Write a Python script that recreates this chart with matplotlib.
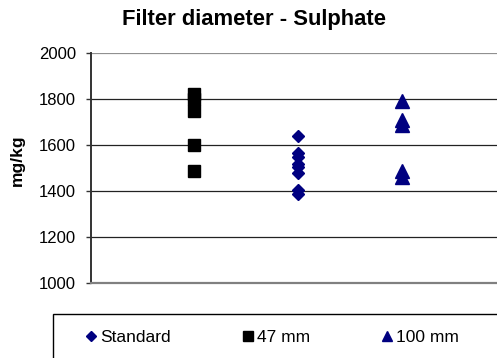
import numpy as np
import matplotlib.pyplot as plt
from matplotlib.patches import Rectangle

plt.rcParams['font.family'] = ['Liberation Sans', 'DejaVu Sans']

# values
standard = [1640, 1565, 1550, 1520, 1505, 1480, 1405, 1390]
mm47 = [1825, 1800, 1750, 1600, 1490]
mm100 = [1793, 1712, 1690, 1488, 1460]
yticks = [1000, 1200, 1400, 1600, 1800, 2000]

navy = '#000080'

fig = plt.figure(figsize=(4.97, 3.58), dpi=100)
ax = fig.add_axes([90.7/497, 1-283.3/358, 1-90.7/497, 230/358])

ax.plot([1]*len(mm47), mm47, 's', color='black', ms=9.3, label='47 mm', zorder=3)
ax.plot([2]*len(standard), standard, 'D', color=navy, ms=6.6, label='Standard', zorder=3)
ax.plot([3]*len(mm100), mm100, '^', color=navy, ms=9.5, label='100 mm', zorder=3)

ax.set_xlim(0, 3.92)
ax.set_ylim(1000, 2000)
ax.set_yticks(yticks)
ax.set_xticks([])
for y in yticks[1:-1]:
    ax.axhline(y, color='#222222', lw=0.9, zorder=1)
ax.axhline(2000, color='#909090', lw=1.6, zorder=1)

for s in ['top', 'right']:
    ax.spines[s].set_visible(False)
ax.spines['left'].set_color('#333333')
ax.spines['left'].set_linewidth(1.4)
ax.spines['bottom'].set_color('#808080')
ax.spines['bottom'].set_linewidth(1.6)
ax.tick_params(axis='y', length=3.5, width=1, color='#333333', pad=7, labelsize=12)

ax.set_ylabel('mg/kg', fontsize=12.5, fontweight='bold')
ax.yaxis.set_label_coords(-0.163, 0.536)

fig.text(254/497, 1-20/358, 'Filter diameter - Sulphate', ha='center', va='center',
         fontsize=15.8, fontweight='bold')

# legend box
fig.patches.append(Rectangle((53/497, -0.01), 1, (358-314)/358 + 0.01, transform=fig.transFigure,
                             facecolor='none', edgecolor='black', lw=1))
h, l = ax.get_legend_handles_labels()
order = [1, 0, 2]
fig.legend([h[i] for i in order], [l[i] for i in order], ncol=3, mode='expand',
           loc='center', bbox_to_anchor=(86/497, 1-345/358, (459-86)/497, 16/358),
           frameon=False, borderpad=0, borderaxespad=0, handlelength=0.6,
           handletextpad=0.2, markerscale=0.72, fontsize=12.5)

fig.savefig('out.png', dpi=100)
